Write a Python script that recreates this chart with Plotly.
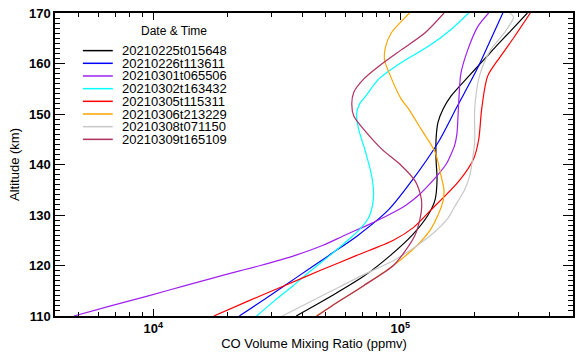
import math
import plotly.graph_objects as go

# ---------------- data ----------------
names = ["20210225t015648", "20210226t113611", "20210301t065506", "20210302t163432",
         "20210305t115311", "20210306t213229", "20210308t071150", "20210309t165109"]
colors = ["#000000", "#0000ff", "#a020f0", "#00ffff", "#ff0000", "#ffa500", "#c8c8c8", "#b03060"]

alt_black = [110, 114, 118, 122, 126, 130, 133, 137, 141, 145, 148.4, 151, 153.5, 157.5, 160.8, 163.3, 166.5, 170]
co_black = [37900, 52800, 71700, 91200, 111700, 129500, 138200, 140800, 139500, 139500, 142100, 149000, 160000,
            189300, 218500, 243000, 280400, 326800]

alt_blue = [110, 113.7, 117.6, 122.0, 125.9, 131.0, 136.7, 144.3, 151.3, 159.2, 164.7, 170]
co_blue = [22300, 29000, 37900, 51400, 67100, 89500, 111000, 142000, 169000, 206000, 232000, 260000]

alt_purple = [110, 112, 114, 116, 118, 120, 122, 124, 126, 128, 130, 132, 134, 136, 138, 140, 142, 144, 146,
              149, 153, 158, 162.7, 167.3, 170]
co_purple = [4770, 6720, 9550, 13450, 18930, 27140, 37530, 48610, 59600, 73700, 89500, 105700, 119200, 130800,
             142100, 153000, 160300, 166300, 169400, 171000, 172600, 175800, 187500, 205800, 227800]

alt_cyan = [110, 113, 116, 119, 122, 125, 126.9, 129.4, 132, 134.7, 137.8, 142.5, 147.1, 150, 152, 153.5,
            156.9, 160.2, 163.3, 166.7, 170]
co_cyan = [26200, 30900, 36800, 43500, 51900, 61300, 67700, 74300, 77200, 77900, 76500, 72300, 67700, 66500,
           68400, 72300, 81700, 101000, 129000, 160000, 189000]

alt_red = [110, 113, 116, 119, 122, 125, 127.5, 131, 136.7, 141.2, 145, 151, 157.5, 161.4, 165.3, 170]
co_red = [17580, 24300, 33890, 47290, 66580, 93740, 112800, 133000, 172600, 198300, 207700, 213500, 225700,
          254400, 289600, 335900]

alt_orange = [110, 112, 116, 120, 124, 127, 130, 132.7, 135, 137.8, 142.5, 147.1, 151.0, 152.9, 157.5, 160.8,
              163.3, 166.1, 169.2, 170]
co_orange = [45600, 52800, 71000, 93700, 117000, 132000, 142100, 148800, 150200, 146100, 138200, 121000,
             108000, 101000, 91200, 86300, 87100, 92000, 105000, 109000]

alt_gray = [110, 113.7, 115.7, 118.0, 121.2, 125.5, 129.4, 131.0, 132.7, 135.0, 137.8, 141.0, 144.5, 151.0,
            157.5, 162.7, 166.1, 169.2, 170]
co_gray = [33300, 46900, 56400, 69700, 95500, 129000, 156000, 163000, 171000, 182000, 191000, 196000, 200000,
           200000, 209000, 232000, 264000, 287000, 277000]

alt_maroon = [110, 112, 116, 120, 122.9, 126.1, 129.4, 131.5, 133.3, 136.7, 139.8, 143.1, 146.5, 149.6, 152.0,
              154.3, 156.9, 159.4, 162.7, 166.1, 170]
co_maroon = [46000, 52800, 71000, 93700, 104700, 114900, 120300, 122000, 121500, 114900, 100900, 83900, 72400,
             64800, 63600, 64800, 71000, 81600, 100900, 126000, 150200]

series_alt = [alt_black, alt_blue, alt_purple, alt_cyan, alt_red, alt_orange, alt_gray, alt_maroon]
series_co = [co_black, co_blue, co_purple, co_cyan, co_red, co_orange, co_gray, co_maroon]

x_range = [4000, 500000]
y_range = [110, 170]
x_major = [1e4, 1e5]
x_major_text = ["10<sup>4</sup>", "10<sup>5</sup>"]
x_minor = [5000, 6000, 7000, 8000, 9000, 20000, 30000, 40000, 50000, 60000, 70000, 80000, 90000,
           200000, 300000, 400000]
legend_title = "Date & Time"

# ---------------- figure ----------------
FONT = "Liberation Sans"
W, H = 579, 353
ML, MR, MT, MB = 55, 4, 13, 34
PW, PH = W - ML - MR, H - MT - MB

fig = go.Figure()
for nm, col, a, c in zip(names, colors, series_alt, series_co):
    fig.add_trace(go.Scatter(x=c, y=a, mode="lines", name=nm,
                             line=dict(color=col, width=1.2, shape="spline", smoothing=0.8),
                             showlegend=False, hoverinfo="skip"))

def px2paper(px, py):
    return (px - ML) / PW, (H - MB - py) / PH

shapes = []
annotations = []
tx, ty = px2paper(139, 31)
annotations.append(dict(x=tx, y=ty, xref="paper", yref="paper", text=legend_title,
                        showarrow=False, xanchor="left", yanchor="middle",
                        font=dict(family=FONT, size=12, color="black")))
for i, (nm, col) in enumerate(zip(names, colors)):
    py = 51 + i * 12.8
    x0, y0 = px2paper(83, py)
    x1, _ = px2paper(113, py)
    shapes.append(dict(type="line", xref="paper", yref="paper", x0=x0, x1=x1, y0=y0, y1=y0,
                       line=dict(color=col, width=1.5)))
    xt, _ = px2paper(120, py)
    annotations.append(dict(x=xt, y=y0, xref="paper", yref="paper", text=nm, showarrow=False,
                            xanchor="left", yanchor="middle",
                            font=dict(family=FONT, size=13, color="black")))

fig.update_layout(
    width=W, height=H, autosize=False,
    margin=dict(l=ML, r=MR, t=MT, b=MB, pad=0),
    paper_bgcolor="white", plot_bgcolor="white",
    font=dict(family=FONT, color="black", size=13),
    showlegend=False,
    shapes=shapes, annotations=annotations,
    xaxis=dict(type="log", range=[math.log10(x_range[0]), math.log10(x_range[1])],
               tickvals=x_major, ticktext=x_major_text, ticks="inside", ticklen=7,
               tickwidth=1, tickcolor="black", showline=True, linecolor="black", linewidth=1.5,
               mirror="ticks", showgrid=False, zeroline=False,
               minor=dict(tickvals=x_minor, ticks="inside", ticklen=4, tickcolor="black",
                          tickwidth=1, showgrid=False),
               tickfont=dict(family=FONT, size=13, color="black", weight="bold"),
               title=dict(text="CO Volume Mixing Ratio (ppmv)", standoff=4,
                          font=dict(family=FONT, size=13, color="black"))),
    yaxis=dict(range=y_range, tick0=110, dtick=10, ticks="inside", ticklen=10, tickwidth=1,
               tickcolor="black", showline=True, linecolor="black", linewidth=1.5,
               mirror="ticks", showgrid=False, zeroline=False,
               minor=dict(dtick=1, ticks="inside", ticklen=5, tickcolor="black", tickwidth=1,
                          showgrid=False),
               tickfont=dict(family=FONT, size=13, color="black", weight="bold"),
               title=dict(text="Altitude (km)", standoff=6,
                          font=dict(family=FONT, size=13, color="black"))),
)

fig.write_html("out.html")
